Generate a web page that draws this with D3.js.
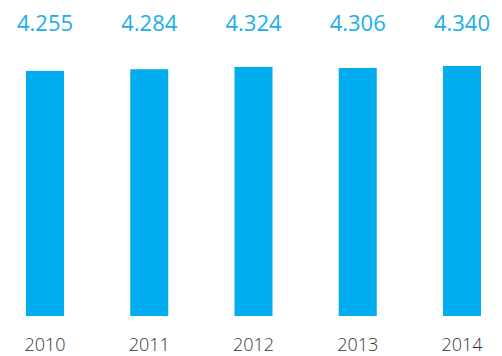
<!DOCTYPE html>
<html>
<head>
<meta charset="utf-8">
<script src="https://cdn.jsdelivr.net/npm/d3@7"></script>
<style>
  html, body { margin: 0; padding: 0; background: #fff; }
  svg { display: block; }
</style>
</head>
<body>
<svg id="chart"></svg>
<script>
// chart data
const years = ["2010", "2011", "2012", "2013", "2014"];
const values = [4.255, 4.284, 4.324, 4.306, 4.340];
const valueLabels = ["4.255", "4.284", "4.324", "4.306", "4.340"];

const width = 502, height = 356;
const BLUE = "#00aeef";

const svg = d3.select("#chart")
    .attr("width", width)
    .attr("height", height);

const x = d3.scaleBand()
    .domain(years)
    .range([26, 481])
    .paddingInner(0.635)
    .paddingOuter(0);

// zero based, bottom of bars at 316
const y = d3.scaleLinear()
    .domain([0, d3.max(values)])
    .range([316, 66]);

const data = years.map((yr, i) => ({ year: yr, value: values[i], label: valueLabels[i] }));

// bars
svg.append("g")
    .selectAll("rect")
    .data(data)
    .join("rect")
    .attr("x", d => x(d.year))
    .attr("y", d => y(d.value))
    .attr("width", x.bandwidth())
    .attr("height", d => y(0) - y(d.value))
    .attr("fill", BLUE);

// value labels on top
svg.append("g")
    .attr("font-family", "'Open Sans', sans-serif")
    .attr("font-size", "22px")
    .attr("font-weight", 400)
    .attr("fill", "#1aaeea")
    .attr("text-anchor", "middle")
    .selectAll("text")
    .data(data)
    .join("text")
    .attr("x", d => x(d.year) + x.bandwidth() / 2)
    .attr("y", 31)
    .text(d => d.label);

// year axis, no line or ticks
const axis = svg.append("g")
    .attr("transform", "translate(0,316)")
    .call(d3.axisBottom(x).tickSize(0).tickPadding(0));
axis.select(".domain").remove();
axis.selectAll("text")
    .attr("y", 35)
    .attr("dy", 0)
    .attr("font-family", "'Open Sans', sans-serif")
    .attr("font-size", "18px")
    .attr("font-weight", 300)
    .attr("fill", "#333");
</script>
</body>
</html>
